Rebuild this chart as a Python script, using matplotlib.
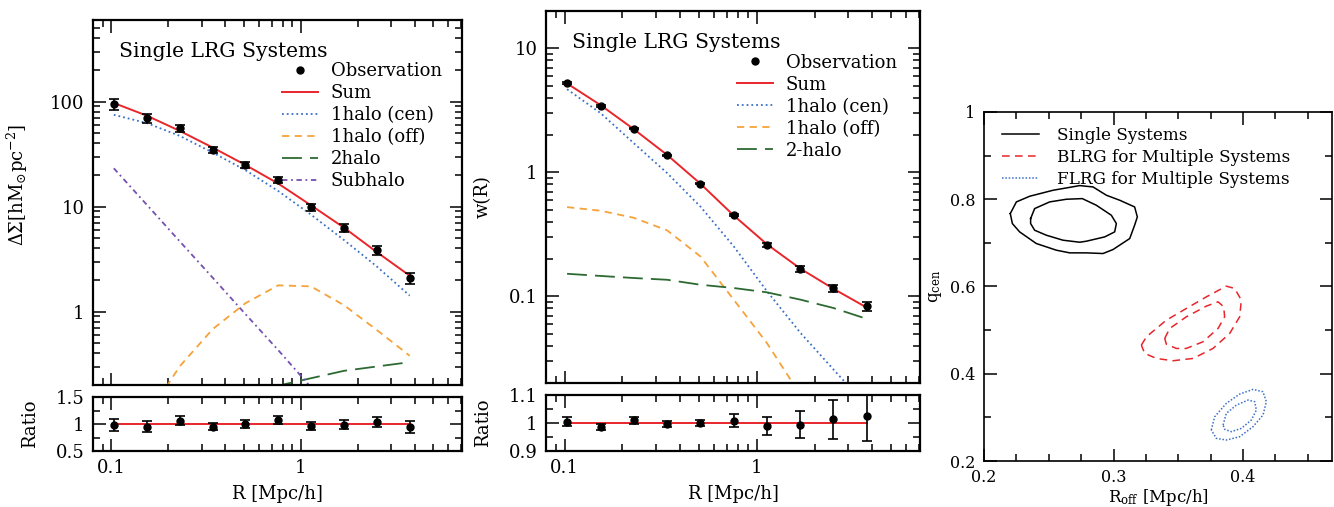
import numpy as np
import matplotlib
matplotlib.use("Agg")
import matplotlib.pyplot as plt
from matplotlib.ticker import FuncFormatter, NullFormatter, LogLocator, MultipleLocator, FixedLocator
from matplotlib.lines import Line2D

plt.rcParams['font.family'] = ['DejaVu Serif']
plt.rcParams['mathtext.fontset'] = 'dejavuserif'

# ---------------- data ----------------
R = [0.103, 0.154, 0.229, 0.342, 0.509, 0.759, 1.13, 1.69, 2.51, 3.75]

# lensing profile Delta Sigma
ds_obs = [94.8, 69.8, 56.0, 34.8, 25.0, 17.9, 9.9, 6.24, 3.85, 2.09]
ds_relerr = [0.11, 0.10, 0.085, 0.07, 0.075, 0.075, 0.07, 0.085, 0.095, 0.11]
ds_sum = [97.2, 73.5, 52.8, 36.6, 25.0, 16.6, 10.3, 6.3, 3.7, 2.2]
ds_cen = [75.0, 62.5, 47.3, 32.8, 22.3, 14.1, 8.4, 4.8, 2.7, 1.42]
ds_off = [0.04, 0.10, 0.30, 0.68, 1.20, 1.78, 1.74, 1.15, 0.67, 0.38]
ds_2h = [0.06, 0.08, 0.10, 0.13, 0.16, 0.197, 0.232, 0.273, 0.30, 0.33]
ds_sub = [23.2, 10.4, 4.69, 2.11, 0.95, 0.43, 0.19, 0.085, 0.038, 0.017]

# projected correlation function w(R)
w_obs = [5.23, 3.43, 2.25, 1.375, 0.81, 0.453, 0.26, 0.166, 0.1165, 0.083]
w_relerr = [0.016, 0.011, 0.012, 0.011, 0.012, 0.023, 0.033, 0.049, 0.07, 0.088]
w_sum = [5.21, 3.48, 2.23, 1.38, 0.81, 0.449, 0.263, 0.167, 0.115, 0.081]
w_cen = [4.68, 3.0, 1.72, 0.985, 0.53, 0.253, 0.11, 0.0507, 0.0257, 0.013]
w_off = [0.524, 0.49, 0.43, 0.34, 0.21, 0.094, 0.042, 0.016, 0.007, 0.003]
w_2h = [0.152, 0.146, 0.1405, 0.136, 0.124, 0.1167, 0.1077, 0.094, 0.0805, 0.0657]

# confidence contours in the (R_off, q_cen) plane
single_out_x = [0.2203, 0.2250, 0.2353, 0.2533, 0.2739, 0.2842, 0.2945, 0.3048, 0.3163, 0.3184,
                0.3163, 0.3125, 0.2996, 0.2919, 0.2790, 0.2662, 0.2559, 0.2404, 0.2275, 0.2219]
single_out_y = [0.7672, 0.7939, 0.8069, 0.8206, 0.8313, 0.8282, 0.8092, 0.7977, 0.7824, 0.7595,
                0.7405, 0.7099, 0.6847, 0.6756, 0.6771, 0.6771, 0.6832, 0.6985, 0.7252, 0.7443]
single_in_x = [0.2360, 0.2391, 0.2507, 0.2636, 0.2759, 0.2867, 0.2983, 0.3022, 0.3009, 0.2932,
               0.2790, 0.2739, 0.2610, 0.2481, 0.2391, 0.2360]
single_in_y = [0.7557, 0.7786, 0.7939, 0.8000, 0.8015, 0.7863, 0.7634, 0.7443, 0.7252, 0.7137,
               0.7038, 0.7015, 0.7061, 0.7176, 0.7290, 0.7443]
blrg_out_x = [0.3215, 0.3254, 0.3408, 0.3562, 0.3717, 0.3871, 0.3936, 0.3987, 0.3974, 0.3897,
              0.3768, 0.3614, 0.3459, 0.3331, 0.3241]
blrg_out_y = [0.4656, 0.4847, 0.5229, 0.5496, 0.5763, 0.6008, 0.5954, 0.5687, 0.5305, 0.4924,
              0.4580, 0.4351, 0.4298, 0.4351, 0.4466]
blrg_in_x = [0.3395, 0.3434, 0.3562, 0.3717, 0.3807, 0.3851, 0.3858, 0.3807, 0.3691, 0.3562,
             0.3485, 0.3408]
blrg_in_y = [0.4809, 0.5038, 0.5305, 0.5550, 0.5649, 0.5534, 0.5305, 0.5038, 0.4733, 0.4580,
             0.4580, 0.4679]
flrg_out_x = [0.3755, 0.3781, 0.3871, 0.3974, 0.4077, 0.4154, 0.4180, 0.4154, 0.4077, 0.3974,
              0.3871, 0.3794]
flrg_out_y = [0.2710, 0.3015, 0.3321, 0.3534, 0.3641, 0.3588, 0.3359, 0.3053, 0.2786, 0.2557,
              0.2481, 0.2519]
flrg_in_x = [0.3846, 0.3871, 0.3949, 0.4039, 0.4090, 0.4103, 0.4064, 0.3987, 0.3910, 0.3859]
flrg_in_y = [0.2824, 0.3092, 0.3282, 0.3397, 0.3359, 0.3168, 0.2939, 0.2748, 0.2672, 0.2725]

# ---------------- styles ----------------
C_RED = '#e8262b'
C_BLUE = '#3a6fc8'
C_ORANGE = '#f6a23a'
C_GREEN = '#2d6a32'
C_PURPLE = '#7450b0'
FS = 13

W, H = 1334, 507
fig = plt.figure(figsize=(W / 100, H / 100), dpi=100)


def fr(x0, y0, x1, y1):
    return [x0 / W, 1 - y1 / H, (x1 - x0) / W, (y1 - y0) / H]


def style_axes(ax, lw=1.6):
    for s in ax.spines.values():
        s.set_linewidth(lw)
    ax.tick_params(which='both', direction='in', top=True, right=True,
                   labelsize=FS, width=1.1, pad=6)
    ax.tick_params(which='major', length=9)
    ax.tick_params(which='minor', length=5)


def gfmt(v, pos):
    return '%g' % v


def log_x(ax):
    ax.set_xscale('log')
    ax.set_xlim(0.08, 7.08)
    ax.xaxis.set_major_locator(FixedLocator([0.1, 1]))
    ax.xaxis.set_minor_locator(LogLocator(base=10, subs=np.arange(2, 10), numticks=20))
    ax.xaxis.set_major_formatter(FuncFormatter(gfmt))
    ax.xaxis.set_minor_formatter(NullFormatter())


def log_y(ax, lo, hi):
    ax.set_yscale('log')
    ax.set_ylim(lo, hi)
    ax.yaxis.set_major_locator(LogLocator(base=10, numticks=10))
    ax.yaxis.set_minor_locator(LogLocator(base=10, subs=np.arange(2, 10), numticks=20))
    ax.yaxis.set_major_formatter(FuncFormatter(gfmt))
    ax.yaxis.set_minor_formatter(NullFormatter())


def profile_panel(ax_main, ax_rat, obs, relerr, total, comps, ylim, ylabel, ratio_lim,
                  ratio_ticks, ratio_minor):
    obs = np.array(obs)
    total = np.array(total)
    err = np.array(relerr) * total
    style_axes(ax_main)
    style_axes(ax_rat)
    log_x(ax_main)
    log_x(ax_rat)
    log_y(ax_main, *ylim)
    ax_main.tick_params(axis='x', labelbottom=False)

    ax_main.errorbar(R, obs, yerr=err, fmt='o', color='black', ms=5, capsize=3.5,
                     elinewidth=1.2, capthick=1.2, zorder=5)
    handles = [Line2D([], [], ls='none', marker='o', color='black', ms=5)]
    labels = ['Observation']
    h, = ax_main.plot(R, total, color=C_RED, lw=1.4, zorder=4)
    handles.append(h)
    labels.append('Sum')
    for vals, lab, kw in comps:
        h, = ax_main.plot(R, vals, lw=1.3, **kw)
        handles.append(h)
        labels.append(lab)

    ax_main.set_ylabel(ylabel, fontsize=FS)

    ax_rat.plot([R[0], R[-1]], [1, 1], color=C_RED, lw=1.4, zorder=3)
    ax_rat.errorbar(R, obs / total, yerr=err / total, fmt='o', color='black', ms=5,
                    capsize=3.5, elinewidth=1.2, capthick=1.2, zorder=5)
    ax_rat.set_ylim(*ratio_lim)
    ax_rat.yaxis.set_major_locator(FixedLocator(ratio_ticks))
    ax_rat.yaxis.set_minor_locator(FixedLocator(ratio_minor))
    ax_rat.yaxis.set_major_formatter(FuncFormatter(gfmt))
    ax_rat.set_ylabel('Ratio', fontsize=FS)
    ax_rat.set_xlabel('R [Mpc/h]', fontsize=FS)
    return handles, labels


LEG_KW = dict(loc='upper left', frameon=False, fontsize=FS, handlelength=2.0,
              handletextpad=0.7, labelspacing=0.22, borderpad=0, borderaxespad=0)

# ---------------- left: lensing ----------------
axL = fig.add_axes(fr(93, 20, 462, 385))
axLr = fig.add_axes(fr(93, 397, 462, 451))
comps_L = [
    (ds_cen, '1halo (cen)', dict(color=C_BLUE, ls=':')),
    (ds_off, '1halo (off)', dict(color=C_ORANGE, ls=(0, (4, 3)))),
    (ds_2h, '2halo', dict(color=C_GREEN, ls=(0, (11, 4.5)))),
    (ds_sub, 'Subhalo', dict(color=C_PURPLE, ls=(0, (3, 2, 1, 2)))),
]
hL, lL = profile_panel(axL, axLr, ds_obs, ds_relerr, ds_sum, comps_L, (0.2, 600),
                       r'$\Delta\Sigma[\mathrm{hM_{\odot}pc^{-2}}]$', (0.5, 1.5),
                       [0.5, 1, 1.5], [0.75, 1.25])
axL.text(0.07, 0.915, 'Single LRG Systems', transform=axL.transAxes, fontsize=14.6,
         va='center', ha='left')
axL.legend(hL, lL, bbox_to_anchor=(0.512, 0.884), **LEG_KW)
axL.yaxis.set_label_coords(-0.17, 0.548)
axLr.yaxis.set_label_coords(-0.145, 0.5)
axLr.xaxis.set_label_coords(0.5, -0.63)

# ---------------- middle: clustering ----------------
axM = fig.add_axes(fr(546, 11, 920, 383))
axMr = fig.add_axes(fr(546, 395, 920, 451))
comps_M = [
    (w_cen, '1halo (cen)', dict(color=C_BLUE, ls=':')),
    (w_off, '1halo (off)', dict(color=C_ORANGE, ls=(0, (4, 3)))),
    (w_2h, '2-halo', dict(color=C_GREEN, ls=(0, (11, 4.5)))),
]
hM, lM = profile_panel(axM, axMr, w_obs, w_relerr, w_sum, comps_M, (0.02, 20),
                       'w(R)', (0.9, 1.1), [0.9, 1, 1.1], [0.95, 1.05])
axM.text(0.07, 0.914, 'Single LRG Systems', transform=axM.transAxes, fontsize=14.6,
         va='center', ha='left')
axM.legend(hM, lM, bbox_to_anchor=(0.511, 0.885), **LEG_KW)
axM.yaxis.set_label_coords(-0.145, 0.5)
axMr.yaxis.set_label_coords(-0.145, 0.5)
axMr.xaxis.set_label_coords(0.5, -0.61)

# ---------------- right: parameter constraints ----------------
axC = fig.add_axes(fr(984, 112, 1332, 461))
style_axes(axC, lw=1.2)
axC.tick_params(labelsize=11.5)
axC.set_xlim(0.2, 0.4687)
axC.set_ylim(0.2, 1.0)
axC.xaxis.set_major_locator(MultipleLocator(0.1))
axC.xaxis.set_minor_locator(MultipleLocator(0.025))
axC.yaxis.set_major_locator(MultipleLocator(0.2))
axC.yaxis.set_minor_locator(MultipleLocator(0.1))
axC.xaxis.set_major_formatter(FuncFormatter(gfmt))
axC.yaxis.set_major_formatter(FuncFormatter(gfmt))


def closed(xs, ys):
    return list(xs) + [xs[0]], list(ys) + [ys[0]]


kw_single = dict(color='black', lw=1.1)
kw_blrg = dict(color=C_RED, lw=1.1, ls=(0, (5, 3.5)))
kw_flrg = dict(color=C_BLUE, lw=1.1, ls=(0, (1, 1.2)))
hs, = axC.plot(*closed(single_out_x, single_out_y), **kw_single)
axC.plot(*closed(single_in_x, single_in_y), **kw_single)
hb, = axC.plot(*closed(blrg_out_x, blrg_out_y), **kw_blrg)
axC.plot(*closed(blrg_in_x, blrg_in_y), **kw_blrg)
hf, = axC.plot(*closed(flrg_out_x, flrg_out_y), **kw_flrg)
axC.plot(*closed(flrg_in_x, flrg_in_y), **kw_flrg)
axC.legend([hs, hb, hf], ['Single Systems', 'BLRG for Multiple Systems',
                          'FLRG for Multiple Systems'],
           loc='upper left', bbox_to_anchor=(0.052, 0.958), frameon=False, fontsize=12.2,
           handlelength=2.2, handletextpad=1.05, labelspacing=0.3, borderpad=0,
           borderaxespad=0)
axC.set_ylabel(r'$\mathrm{q_{cen}}$', fontsize=12)
axC.yaxis.set_label_coords(-0.115, 0.5)
axC.set_xlabel(r'$\mathrm{R_{off}}$ [Mpc/h]', fontsize=12)
axC.xaxis.set_label_coords(0.5, -0.075)

fig.savefig('out.png', dpi=100)
